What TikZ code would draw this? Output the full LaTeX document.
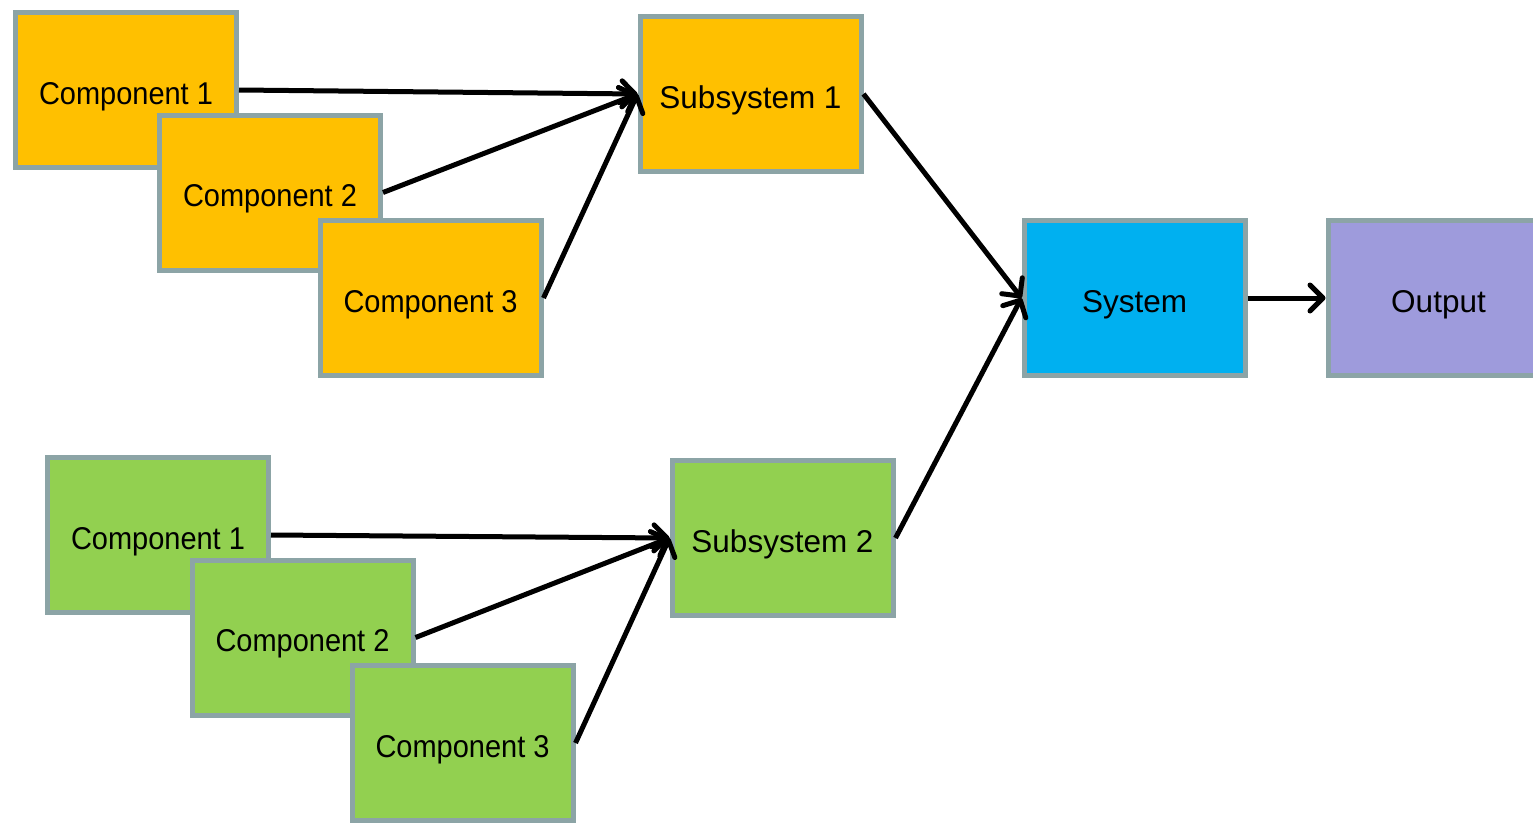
\documentclass[tikz,border=0pt]{standalone}
\usepackage{fontspec}
\usepackage{graphicx}
\setmainfont{Liberation Sans}
\usetikzlibrary{arrows.meta}
\definecolor{edgegray}{HTML}{8CA4A6}
\definecolor{amber}{HTML}{FFC000}
\definecolor{leaf}{HTML}{92D050}
\definecolor{sky}{HTML}{00B0F0}
\definecolor{lavender}{HTML}{9E9BDC}
% component labels are set slightly condensed
\newcommand{\complabel}[1]{\scalebox{0.92}[1]{#1}}
\tikzset{
  block/.style={draw=edgegray, line width=5pt, minimum width=221pt, minimum height=155pt,
    inner sep=0pt, text height=28pt, text depth=0pt,
    font=\fontsize{31.5}{36}\selectfont, text=black},
  link/.style={line width=5pt, black, -{Straight Barb[length=13pt,width=26pt,round]}}
}
\begin{document}
\begin{tikzpicture}[x=1pt,y=-1pt]
\useasboundingbox (0,0) rectangle (1533,822);
% upper branch
\node[block, fill=amber] (a1) at (126,90) {\complabel{Component 1}};
\node[block, fill=amber] (a2) at (270,192.5) {\complabel{Component 2}};
\node[block, fill=amber] (a3) at (430.5,298) {\complabel{Component 3}};
\node[block, fill=amber] (s1) at (750.5,94) {Subsystem 1};
% lower branch
\node[block, fill=leaf] (b1) at (158,535) {\complabel{Component 1}};
\node[block, fill=leaf] (b2) at (302.5,637.5) {\complabel{Component 2}};
\node[block, fill=leaf] (b3) at (462.5,743) {\complabel{Component 3}};
\node[block, fill=leaf] (s2) at (782.5,538) {Subsystem 2};
% system and output
\node[block, fill=sky] (sys) at (1134.5,298) {System};
\node[block, fill=lavender] (out) at (1438.5,298) {Output};
% connectors
\draw[link] (a1.east) -- (s1.west);
\draw[link] (a2.east) -- (s1.west);
\draw[link] (a3.east) -- (s1.west);
\draw[link] (b1.east) -- (s2.west);
\draw[link] (b2.east) -- (s2.west);
\draw[link] (b3.east) -- (s2.west);
\draw[link] (s1.east) -- (sys.west);
\draw[link] (s2.east) -- (sys.west);
\draw[link] (sys.east) -- (out.west);
\end{tikzpicture}
\end{document}
